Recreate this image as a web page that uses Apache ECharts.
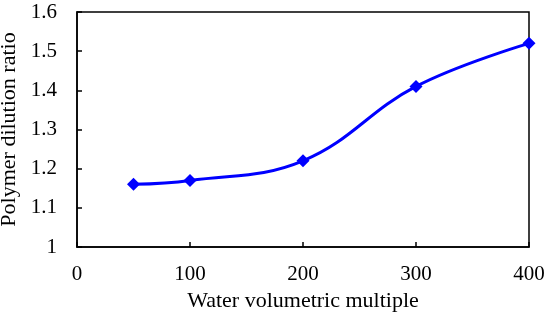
<!DOCTYPE html>
<html>
<head>
<meta charset="utf-8">
<script src="https://cdn.jsdelivr.net/npm/echarts@6/dist/echarts.min.js"></script>
<style>html,body{margin:0;padding:0;background:#fff;}#c{width:550px;height:320px;}</style>
</head>
<body>
<div id="c"></div>
<script>
const xValues = [50, 100, 200, 300, 400];
const yValues = [1.16, 1.17, 1.22, 1.41, 1.52];
const xTicks = [0, 100, 200, 300, 400];
const yTicks = [1, 1.1, 1.2, 1.3, 1.4, 1.5, 1.6];
const xName = 'Water volumetric multiple';
const yName = 'Polymer dilution ratio';

const font = '"Liberation Serif", "Times New Roman", serif';
const chart = echarts.init(document.getElementById('c'), null, {renderer: 'canvas'});
chart.setOption({
  animation: false,
  backgroundColor: '#fff',
  grid: {left: 77, right: 21, top: 12, bottom: 73, show: true, borderColor: '#000', borderWidth: 1.5,
    containLabel: false, outerBoundsMode: 'none'},
  xAxis: {
    type: 'value', min: xTicks[0], max: xTicks[xTicks.length - 1], interval: 100,
    name: xName, nameLocation: 'middle', nameGap: 38,
    nameTextStyle: {fontFamily: font, fontSize: 22, color: '#000'},
    axisLine: {show: true, lineStyle: {color: '#000', width: 1.5}},
    axisTick: {show: true, inside: true, length: 5, lineStyle: {color: '#000', width: 1.5}},
    axisLabel: {fontFamily: font, fontSize: 21, color: '#000', margin: 17},
    splitLine: {show: false}
  },
  yAxis: {
    type: 'value', min: yTicks[0], max: yTicks[yTicks.length - 1], interval: 0.1,
    name: yName, nameLocation: 'middle', nameGap: 50,
    nameTextStyle: {fontFamily: font, fontSize: 22, color: '#000'},
    axisLine: {show: true, lineStyle: {color: '#000', width: 1.5}},
    axisTick: {show: true, inside: true, length: 5, lineStyle: {color: '#000', width: 1.5}},
    axisLabel: {fontFamily: font, fontSize: 21, color: '#000', margin: 20,
      formatter: v => String(Math.round(v * 10) / 10)},
    splitLine: {show: false}
  },
  series: [{
    type: 'line',
    data: xValues.map((x, i) => [x, yValues[i]]),
    smooth: 0.4,
    symbol: 'diamond', symbolSize: 13,
    lineStyle: {color: '#0000FF', width: 3},
    itemStyle: {color: '#0000FF'}
  }]
});
</script>
</body>
</html>
